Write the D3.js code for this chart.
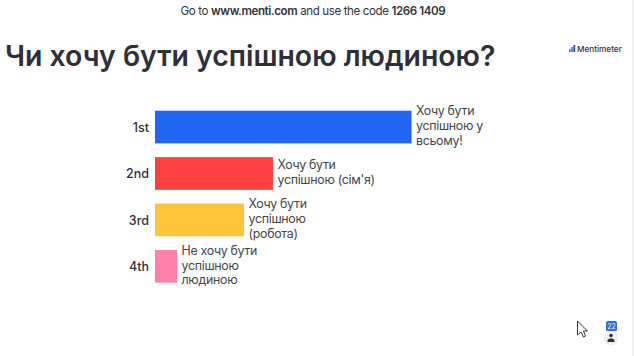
<!DOCTYPE html>
<html>
<head>
<meta charset="utf-8">
<script src="https://cdn.jsdelivr.net/npm/d3@7"></script>
<style>
  html,body{margin:0;padding:0;background:#fff;overflow:hidden;}
  svg{display:block;}
</style>
</head>
<body>
<div id="chart"></div>
<script>
let w=634;
let h=356;

let ranks=["1st","2nd","3rd","4th"];
let scores=[100,46,34.7,8.6];
let answers=[
  ["Хочу бути","успішною у","всьому!"],
  ["Хочу бути","успішною (сім'я)"],
  ["Хочу бути","успішною","(робота)"],
  ["Не хочу бути","успішною","людиною"]
];
let barColors=["#1f66f5","#ff4040","#ffc538","#ff80ab"];

let titleText="Чи хочу бути успішною людиною?";
let fontName="Inter, 'Open Sans', sans-serif";
let textColor="#2f3037";

let viz=d3.select("#chart").append("svg")
  .attr("width",w)
  .attr("height",h)
  ;

// top line, bold parts in tspans
let topLine=viz.append("text")
  .attr("x",313)
  .attr("y",15)
  .attr("text-anchor","middle")
  .attr("fill","#33343c")
  .style("font-family",fontName)
  .style("font-size","11.6px")
  .style("letter-spacing","-0.4px")
  ;
topLine.append("tspan").text("Go to ");
topLine.append("tspan").text("www.menti.com").style("font-weight",600);
topLine.append("tspan").text(" and use the code ");
topLine.append("tspan").text("1266 1409").style("font-weight",600);

// title
viz.append("text")
  .text(titleText)
  .attr("x",5)
  .attr("y",66)
  .attr("fill",textColor)
  .style("font-family",fontName)
  .style("font-weight",600)
  .style("font-size","28.4px")
  ;

// logo
let logoHeights=[3,5,7];
logoHeights.forEach(function(d,i){
  viz.append("rect")
    .attr("x",569+i*2.2)
    .attr("y",52-d)
    .attr("width",1.8)
    .attr("height",d)
    .attr("fill",i==2?"#2b4fa8":"#5f7fc8")
    ;
});
viz.append("text")
  .text("Mentimeter")
  .attr("x",577)
  .attr("y",52)
  .attr("fill",textColor)
  .style("font-family",fontName)
  .style("font-weight",500)
  .style("font-size","8.2px")
  ;

// scales
let xScale=d3.scaleLinear().domain([0,100]).range([155,411.5]);
let yScale=d3.scaleBand().domain(ranks).range([110.7,282.7]).paddingInner(0.297);

let yAxisGroup=viz.append("g")
  .attr("class","yAxisGroup")
  .attr("transform","translate(155,1)")
  ;
let yAxis=d3.axisLeft(yScale).tickSize(0).tickPadding(6);
yAxisGroup.call(yAxis);
yAxisGroup.select(".domain").remove();
yAxisGroup.selectAll("text")
  .attr("fill",textColor)
  .style("font-family",fontName)
  .style("font-weight",500)
  .style("font-size","12.5px")
  ;

let rows=ranks.map(function(d,i){
  return {rank:d,score:scores[i],lines:answers[i],color:barColors[i]};
});

viz.selectAll(".bar").data(rows).enter()
  .append("rect")
  .attr("class","bar")
  .attr("x",xScale(0))
  .attr("y",function(d){return yScale(d.rank);})
  .attr("width",function(d){return xScale(d.score)-xScale(0);})
  .attr("height",yScale.bandwidth())
  .attr("fill",function(d){return d.color;})
  ;

// answer labels
let lineGap=14.8;
let labels=viz.selectAll(".answer").data(rows).enter()
  .append("text")
  .attr("class","answer")
  .attr("fill","#44454d")
  .style("font-family",fontName)
  .style("font-size","12.4px")
  .style("letter-spacing","-0.3px")
  ;
labels.each(function(d){
  let mid=yScale(d.rank)+yScale.bandwidth()/2;
  let top=mid-(d.lines.length-1)*lineGap/2+3.2;
  d3.select(this).selectAll("tspan").data(d.lines).enter()
    .append("tspan")
    .attr("x",xScale(d.score)+4.5)
    .attr("y",function(l,i){return top+i*lineGap;})
    .text(function(l){return l;})
    ;
});

// cursor
viz.append("path")
  .attr("d","M577.5,321 L577.5,335 L581,332 L583.5,337 L585.5,336 L583.5,331 L587.5,331 Z")
  .attr("fill","#fff")
  .attr("stroke","#333")
  .attr("stroke-width",1)
  ;

// participant badge
viz.append("circle").attr("cx",611).attr("cy",338).attr("r",7.5).attr("fill","#eef0f3");
viz.append("circle").attr("cx",611).attr("cy",335.5).attr("r",1.8).attr("fill","#2f3037");
viz.append("path").attr("d","M607.5,342 L607.5,340 Q611,336.5 614.5,340 L614.5,342 Z").attr("fill","#2f3037");
viz.append("rect")
  .attr("x",606).attr("y",321).attr("width",11).attr("height",10).attr("rx",1.5)
  .attr("fill","#2f6fd6")
  ;
viz.append("text")
  .text("22")
  .attr("x",611.5)
  .attr("y",328.5)
  .attr("text-anchor","middle")
  .attr("fill","#e8f0ff")
  .style("font-family",fontName)
  .style("font-size","7px")
  ;

// grey strip on the right edge
viz.append("rect").attr("x",632).attr("y",0).attr("width",2).attr("height",h).attr("fill","#f0f0f0");
</script>
</body>
</html>
